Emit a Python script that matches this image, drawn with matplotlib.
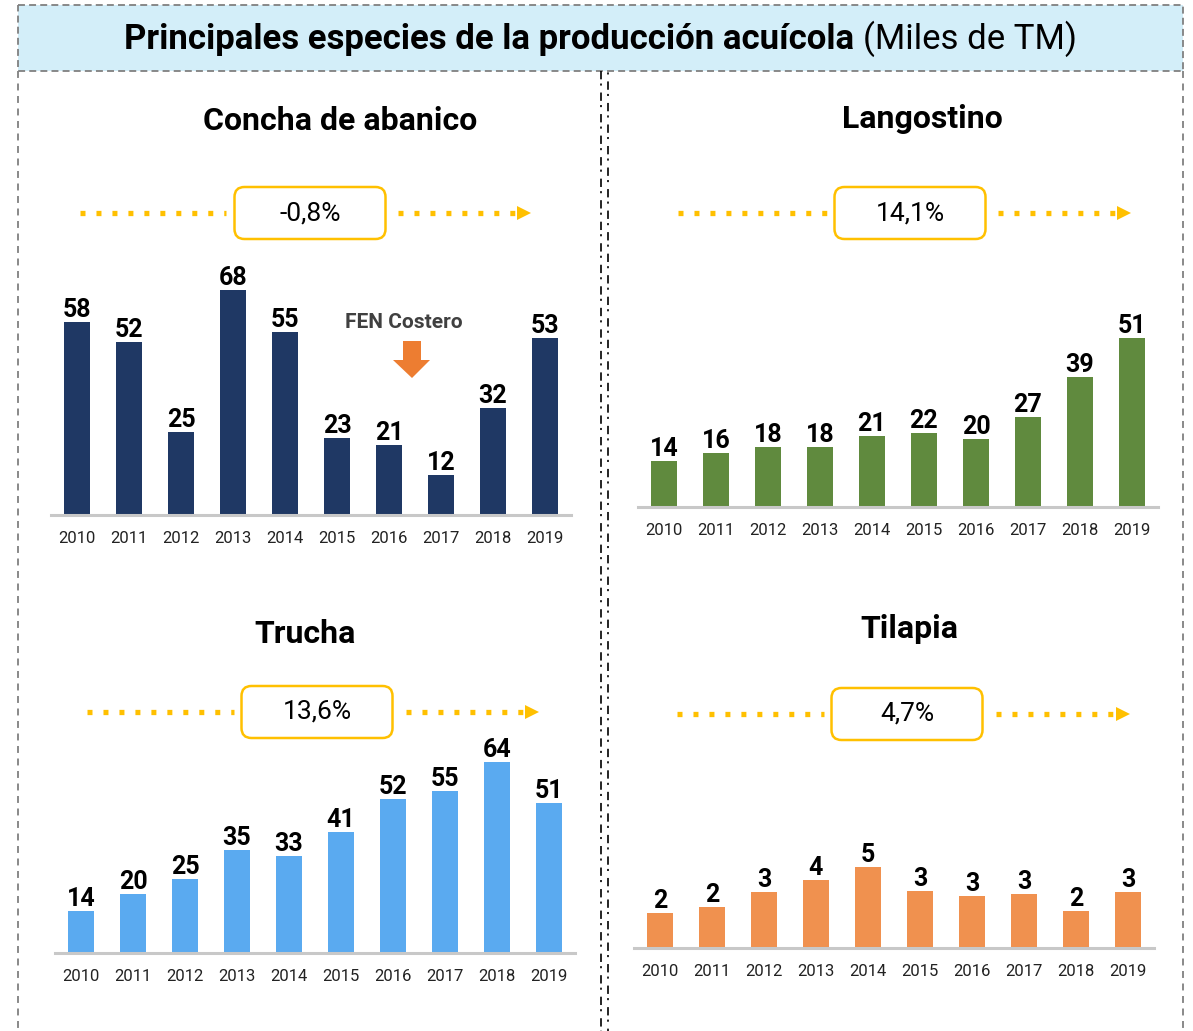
import matplotlib
matplotlib.use("Agg")
import matplotlib.pyplot as plt
from matplotlib.transforms import Affine2D
from matplotlib.patches import FancyBboxPatch, Polygon, Rectangle
from matplotlib.lines import Line2D

# ---------------- data ----------------
years = ["2010", "2011", "2012", "2013", "2014", "2015", "2016", "2017", "2018", "2019"]
concha = [58.3, 52.4, 25.1, 68.0, 55.2, 23.2, 21.1, 12.1, 32.3, 53.4]
langostino = [13.9, 16.4, 18.1, 18.2, 21.4, 22.4, 20.4, 27.3, 39.4, 51.1]
trucha = [14.1, 19.9, 24.8, 34.7, 32.7, 40.8, 51.9, 54.6, 64.2, 50.6]
tilapia = [2.1, 2.4, 3.3, 4.0, 4.8, 3.4, 3.1, 3.2, 2.2, 3.3]
species = ["Concha de abanico", "Langostino", "Trucha", "Tilapia"]
growth = ["-0,8%", "14,1%", "13,6%", "4,7%"]
title_bold = "Principales especies de la producción acuícola"
title_reg = "(Miles de TM)"
note = "FEN Costero"

plt.rcParams['font.family'] = ['Roboto', 'DejaVu Sans']
plt.rcParams['lines.scale_dashes'] = False

W, H = 1193, 1031
fig = plt.figure(figsize=(W / 100, H / 100), dpi=100)
fig.patch.set_facecolor("white")
T = Affine2D().scale(1 / W, -1 / H).translate(0, 1) + fig.transFigure

GRAY = "#808080"
YEL = "#FFC000"

# ---------- frame ----------
title_box = Rectangle((18, 5), 1165, 66, transform=T, facecolor="#D3EEF9",
                      edgecolor=GRAY, lw=1.3, linestyle=(0, (5, 3)), zorder=1)
fig.add_artist(title_box)
for x in (18, 1183):
    fig.add_artist(Line2D([x, x], [71, 1040], transform=T, color=GRAY, lw=1.3,
                          linestyle=(0, (5, 4))))
fig.add_artist(Line2D([601, 601], [71, 1040], transform=T, color="black", lw=1.2,
                      linestyle=(0, (6, 3, 1.5, 5))))
fig.add_artist(Line2D([608, 608], [71, 1040], transform=T, color="black", lw=1.2,
                      linestyle=(8, (6, 3, 1.5, 5))))

# ---------- main title ----------
t1 = fig.text(124 / W, 1 - 39 / H, title_bold + " ", fontsize=25, fontweight="bold",
              ha="left", va="center")
r = fig.canvas.get_renderer()
bb = t1.get_window_extent(r)
fig.text(bb.x1 / W, 1 - 39 / H, title_reg, fontsize=25, ha="left", va="center")

# ---------- panels ----------
panels = [
    dict(vals=concha, color="#1F3864", x0=51, x1=571, base=515, scale=3.31,
         tx=340, ty=121, bx=310, by=213, l0=80, l1=226, r0=398, tip=531),
    dict(vals=langostino, color="#608A3E", x0=638, x1=1158, base=507, scale=3.31,
         tx=922, ty=119, bx=910, by=213, l0=678, l1=828, r0=998, tip=1131),
    dict(vals=trucha, color="#5AAAF0", x0=55, x1=575, base=953, scale=2.97,
         tx=305, ty=634, bx=317, by=712, l0=87, l1=234, r0=406, tip=539),
    dict(vals=tilapia, color="#F0914F", x0=634, x1=1154, base=948, scale=16.9,
         tx=909, ty=629, bx=907, by=714, l0=677, l1=824, r0=996, tip=1130),
]

for p, name, g in zip(panels, species, growth):
    h = 250
    ax = fig.add_axes([p["x0"] / W, 1 - p["base"] / H, (p["x1"] - p["x0"]) / W, h / H])
    x = list(range(len(years)))
    bars = ax.bar(x, p["vals"], width=0.5, color=p["color"], zorder=2)
    ax.bar_label(bars, labels=[str(round(v)) for v in p["vals"]], padding=0,
                 fontsize=18, fontweight="bold", color="black")
    ax.set_xlim(-0.5, 9.5)
    ax.set_ylim(0, h / p["scale"])
    ax.set_xticks(x)
    ax.set_xticklabels(years, fontsize=12, color="#222222")
    ax.tick_params(axis="x", length=0, pad=11.5)
    ax.set_yticks([])
    for s in ("left", "right", "top"):
        ax.spines[s].set_visible(False)
    ax.spines["bottom"].set_color("#C8C8C8")
    ax.spines["bottom"].set_linewidth(2.2)
    ax.patch.set_alpha(0)

    fig.text(p["tx"] / W, 1 - p["ty"] / H, name, fontsize=23, fontweight="bold",
             ha="center", va="center")
    # growth box
    bw, bh = 151, 52
    box = FancyBboxPatch((p["bx"] - bw / 2, p["by"] - bh / 2), bw, bh,
                         boxstyle="round,pad=0,rounding_size=10", transform=T,
                         facecolor="white", edgecolor=YEL, lw=1.8)
    fig.add_artist(box)
    fig.text(p["bx"] / W, 1 - p["by"] / H, g, fontsize=19, ha="center", va="center")
    # dotted arrow
    fig.add_artist(Line2D([p["l0"], p["l1"]], [p["by"], p["by"]], transform=T,
                          color=YEL, lw=3.8, linestyle=(0, (3.6, 7.9)),
                          dash_capstyle="butt"))
    fig.add_artist(Line2D([p["r0"], p["tip"] - 14], [p["by"], p["by"]], transform=T,
                          color=YEL, lw=3.8, linestyle=(0, (3.6, 7.9)),
                          dash_capstyle="butt"))
    t = p["tip"]
    fig.add_artist(Polygon([(t - 14, p["by"] - 7), (t, p["by"]), (t - 14, p["by"] + 7)],
                           closed=True, transform=T, facecolor=YEL, edgecolor="none"))

# FEN Costero annotation
fig.text(404 / W, 1 - 323 / H, note, fontsize=15, fontweight="bold",
         color="#404040", ha="center", va="center")
fig.add_artist(Polygon([(403, 341), (421, 341), (421, 360), (430, 360), (412, 378),
                        (393, 360), (403, 360)], closed=True, transform=T,
                       facecolor="#ED7D31", edgecolor="none"))

fig.savefig("out.png", dpi=100)
